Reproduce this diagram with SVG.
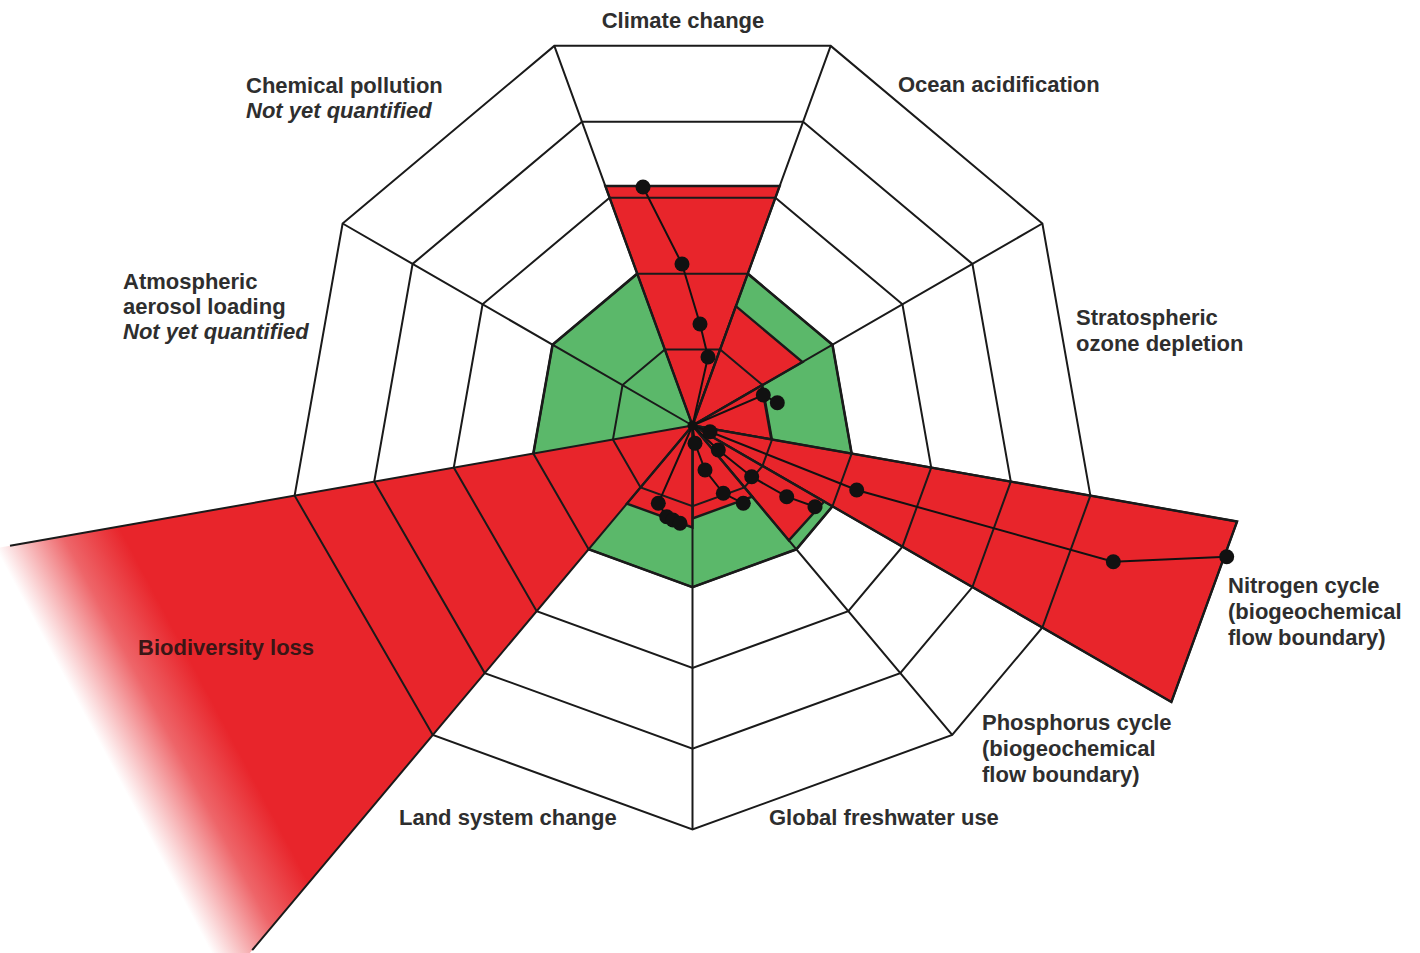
<svg xmlns="http://www.w3.org/2000/svg" width="1420" height="953" viewBox="0 0 1420 953">
<style>
.lbl{font-family:"Liberation Sans",Arial,Helvetica,sans-serif;font-weight:bold;font-size:22px;fill:#2e2e2e}
.it{font-style:italic}
.web{fill:none;stroke:#1a1a1a;stroke-width:2;stroke-linejoin:miter}
.red{fill:#e8252b;stroke:#1a1a1a;stroke-width:2.4;stroke-linejoin:miter}
.green{fill:#5bb86a;stroke:#1a1a1a;stroke-width:2.6}
.traj{fill:none;stroke:#111;stroke-width:2}
.dot{fill:#111}
</style>
<defs>
<linearGradient id="fade" gradientUnits="userSpaceOnUse" x1="205" y1="688" x2="100" y2="744">
<stop offset="0" stop-color="#e8252b"/>
<stop offset="0.45" stop-color="#ee6569"/>
<stop offset="1" stop-color="#ffffff"/>
</linearGradient>
</defs>
<rect width="1420" height="953" fill="#ffffff"/>
<g id="fills">
<polygon id="safe-zone" class="green" points="637.23,273.65 747.77,273.65 832.45,344.7 851.65,453.56 832.45,506.3 796.38,549.29 692.5,587.1 588.62,549.29 533.35,453.56 552.55,344.7"/>
<polygon id="wedge-biodiversity" fill="url(#fade)" stroke="none" points="692.5,425.5 -292,599 49.7,1191.5"/>
<polygon id="wedge-climate" class="red" points="692.5,425.5 605.3,186 779.7,186"/>
<polygon id="wedge-ocean" class="red" points="692.5,425.5 735.9,306.2 802.5,362"/>
<polygon id="wedge-ozone" class="red" points="692.5,425.5 761.7,385.5 771.3,439.4"/>
<polygon id="wedge-nitrogen" class="red" points="692.5,425.5 1237.1,521.5 1171.4,702"/>
<polygon id="wedge-phosphorus" class="red" points="692.5,425.5 824.1,501.5 788.9,540.4"/>
<polygon id="wedge-freshwater" class="red" points="692.5,425.5 752.3,496.7 692.5,518.5"/>
<polygon id="wedge-land" class="red" points="692.5,425.5 692.5,527.5 626.9,503.6"/>
</g>
<g id="web">
<polygon class="web" points="664.86,349.57 720.14,349.57 762.47,385.1 772.07,439.53 762.47,465.9 744.44,487.4 692.5,506.3 640.56,487.4 612.93,439.53 622.53,385.1"/>
<polygon class="web" points="637.23,273.65 747.77,273.65 832.45,344.7 851.65,453.56 832.45,506.3 796.38,549.29 692.5,587.1 588.62,549.29 533.35,453.56 552.55,344.7"/>
<polygon class="web" points="609.59,197.72 775.41,197.72 902.43,304.3 931.22,467.59 902.43,546.7 848.31,611.19 692.5,667.9 536.69,611.19 453.78,467.59 482.57,304.3"/>
<polygon class="web" points="581.96,121.79 803.04,121.79 972.4,263.9 1010.79,481.62 972.4,587.1 900.25,673.09 692.5,748.7 484.75,673.09 374.21,481.62 412.6,263.9"/>
<polygon class="web" points="554.32,45.86 830.68,45.86 1042.38,223.5 1090.36,495.65 1042.38,627.5 952.19,734.98 692.5,829.5 432.81,734.98 294.64,495.65 342.62,223.5"/>
<path class="web" d="M692.5,425.5L554.32,45.86M692.5,425.5L830.68,45.86M692.5,425.5L1042.38,223.5M692.5,425.5L1237.1,521.5M692.5,425.5L1171.4,702M692.5,425.5L952.19,734.98M692.5,425.5L692.5,829.5M692.5,425.5L252.2,950.2M692.5,425.5L10,545.8M692.5,425.5L342.62,223.5M1237.1,521.5L1171.4,702"/>
</g>
<g id="connectors">
<polyline class="traj" points="692.5,425.5 708,357 700,324 682,264 643,187"/>
<polyline class="traj" points="692.5,425.5 763.3,395 777.3,402.7"/>
<polyline class="traj" points="692.5,425.5 710,431.7 856.7,490 1113.3,561.7 1226.7,556.7"/>
<polyline class="traj" points="692.5,425.5 718.3,450 751.7,476.7 786.7,496.7 815,506.7"/>
<polyline class="traj" points="692.5,425.5 695,443.3 705,470 723.3,493.3 743.3,503.3"/>
<polyline class="traj" points="692.5,425.5 658.3,503.3 666.7,516.7 673,520 680,523.3"/>
<g class="dot">
<circle cx="643" cy="187" r="7.5"/><circle cx="682" cy="264" r="7.5"/><circle cx="700" cy="324" r="7.5"/><circle cx="708" cy="357" r="7.5"/>
<circle cx="763.3" cy="395" r="7.5"/><circle cx="777.3" cy="402.7" r="7.5"/>
<circle cx="710" cy="431.7" r="7.5"/><circle cx="856.7" cy="490" r="7.5"/><circle cx="1113.3" cy="561.7" r="7.5"/><circle cx="1226.7" cy="556.7" r="7.5"/>
<circle cx="718.3" cy="450" r="7.5"/><circle cx="751.7" cy="476.7" r="7.5"/><circle cx="786.7" cy="496.7" r="7.5"/><circle cx="815" cy="506.7" r="7.5"/>
<circle cx="695" cy="443.3" r="7.5"/><circle cx="705" cy="470" r="7.5"/><circle cx="723.3" cy="493.3" r="7.5"/><circle cx="743.3" cy="503.3" r="7.5"/>
<circle cx="658.3" cy="503.3" r="7.5"/><circle cx="666.7" cy="516.7" r="7.5"/><circle cx="673" cy="520" r="7.5"/><circle cx="680" cy="523.3" r="7.5"/>
<circle cx="692.5" cy="425.5" r="5"/>
</g>
</g>
<g id="label-climate-change"><text class="lbl" x="683" y="28" text-anchor="middle">Climate change</text></g>
<g id="label-ocean-acidification"><text class="lbl" x="898" y="92">Ocean acidification</text></g>
<g id="label-ozone"><text class="lbl" x="1076" y="325">Stratospheric</text><text class="lbl" x="1076" y="351">ozone depletion</text></g>
<g id="label-nitrogen"><text class="lbl" x="1228" y="593">Nitrogen cycle</text><text class="lbl" x="1228" y="619">(biogeochemical</text><text class="lbl" x="1228" y="645">flow boundary)</text></g>
<g id="label-phosphorus"><text class="lbl" x="982" y="730">Phosphorus cycle</text><text class="lbl" x="982" y="756">(biogeochemical</text><text class="lbl" x="982" y="782">flow boundary)</text></g>
<g id="label-freshwater"><text class="lbl" x="769" y="825">Global freshwater use</text></g>
<g id="label-land"><text class="lbl" x="399" y="825">Land system change</text></g>
<g id="label-biodiversity"><text class="lbl" x="138" y="655" style="fill:#3a1616">Biodiversity loss</text></g>
<g id="label-aerosol"><text class="lbl" x="123" y="289">Atmospheric</text><text class="lbl" x="123" y="314">aerosol loading</text><text class="lbl it" x="123" y="339">Not yet quantified</text></g>
<g id="label-chemical"><text class="lbl" x="246" y="93">Chemical pollution</text><text class="lbl it" x="246" y="118">Not yet quantified</text></g>
</svg>
